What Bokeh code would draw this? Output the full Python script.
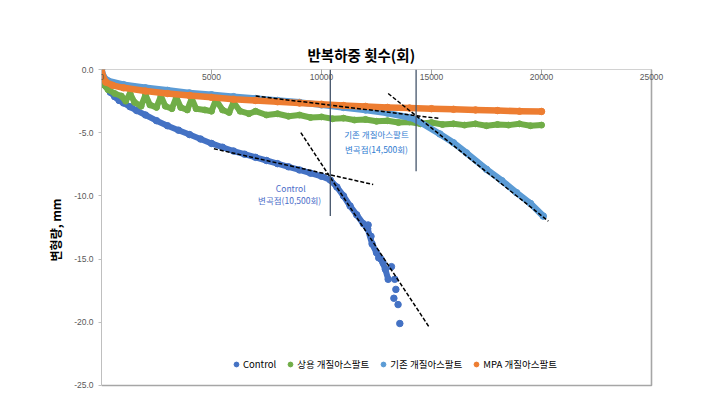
from bokeh.plotting import figure
from bokeh.models import Range1d, FixedTicker, Legend, LegendItem, Label
from bokeh.core.properties import value
from bokeh.embed import file_html
from bokeh.resources import INLINE

# ---------------- data ----------------
xticks = [0, 5000, 10000, 15000, 20000, 25000]
xtick_labels = ["0", "5000", "10000", "15000", "20000", "25000"]
yticks = [0, -5, -10, -15, -20, -25]
ytick_labels = ["0.0", "-5.0", "-10.0", "-15.0", "-20.0", "-25.0"]

series_names = ["Control", "상용 개질아스팔트", "기존 개질아스팔트", "MPA 개질아스팔트"]

# Control (main band)
ctrl_x = [0, 50, 100, 200, 400, 600, 800, 1000, 1300, 1600, 2000, 2500, 3000, 3500,
          4000, 4500, 5000, 5500, 6000, 6500, 7000, 7500, 8000, 8500, 9000, 9500,
          10000, 10400, 10700, 11000, 11300, 11600, 11900, 12100, 12300, 12500,
          12700, 12900, 13030]
ctrl_y = [0, -0.5, -0.9, -1.3, -1.8, -2.15, -2.45, -2.65, -2.95, -3.25, -3.6, -4.05,
          -4.45, -4.8, -5.15, -5.5, -5.85, -6.15, -6.45, -6.7, -6.95, -7.2, -7.45,
          -7.7, -7.95, -8.2, -8.45, -8.75, -9.3, -10.0, -10.8, -11.5, -12.2, -12.6,
          -13.8, -14.5, -15.0, -15.8, -16.6]
# Control (scattered tail points)
ctrl_tail_x = [12120, 12250, 12600, 12800, 13180, 13330, 13380, 13290, 13480, 13560]
ctrl_tail_y = [-12.3, -13.2, -14.9, -15.3, -15.6, -16.6, -17.4, -18.1, -18.6, -20.1]

# 상용 개질아스팔트
green_x = [0, 100, 300, 600, 900, 1100, 1300, 1500, 1800, 2000, 2200, 2500, 2700,
           2900, 3200, 3400, 3600, 3900, 4100, 4300, 4700, 5000, 5200, 5500, 5800,
           6000, 6300, 6700, 7000, 7500, 8000, 8500, 9000, 9500, 10000, 10500,
           11000, 11500, 12000, 12500, 13000, 13500, 14000, 14500, 15000, 15500,
           16000, 16500, 17000, 17500, 18000, 18500, 19000, 19500, 20000]
green_y = [0, -1.2, -1.6, -1.9, -2.1, -2.5, -1.9, -2.6, -2.9, -2.0, -2.8, -3.0, -2.1,
           -2.9, -3.1, -2.2, -3.0, -3.2, -2.3, -3.1, -3.2, -3.3, -2.4, -3.2, -3.4,
           -2.6, -3.3, -3.5, -3.3, -3.6, -3.5, -3.7, -3.6, -3.8, -3.75, -3.9, -3.85,
           -4.0, -3.95, -4.1, -4.05, -4.2, -4.15, -4.3, -4.2, -4.35, -4.3, -4.4, -4.3,
           -4.45, -4.35, -4.4, -4.3, -4.45, -4.4]

# 기존 개질아스팔트
lblue_x = [0, 100, 300, 1000, 2000, 3000, 4000, 5000, 6000, 7000, 8000, 9000, 10000,
           11000, 12000, 13000, 14000, 14320, 15380, 16000, 16590, 17500, 18200,
           18870, 19500, 20080]
lblue_y = [0, -0.6, -0.9, -1.2, -1.45, -1.65, -1.85, -2.0, -2.15, -2.3, -2.45, -2.6,
           -2.8, -3.0, -3.2, -3.45, -3.8, -4.0, -5.1, -5.8, -6.6, -7.9, -8.8, -9.75,
           -10.6, -11.6]

# MPA 개질아스팔트
orange_x = [0, 50, 200, 500, 1000, 2000, 3000, 4000, 5000, 6000, 7000, 8000, 9000,
            10000, 11000, 12000, 13000, 14000, 15000, 16000, 17000, 18000, 19000, 20000]
orange_y = [0, -0.5, -1.0, -1.25, -1.45, -1.7, -1.9, -2.05, -2.2, -2.35, -2.45, -2.55,
            -2.65, -2.75, -2.85, -2.92, -3.0, -3.05, -3.1, -3.15, -3.2, -3.25, -3.3, -3.32]

# break points (vertical markers) and tangent lines
bp_x = [10400, 14300]
bp_y_end = [-11.6, -8.05]
tan_x0 = [5110, 9060, 7010, 13030]
tan_y0 = [-6.27, -5.0, -2.1, -1.9]
tan_x1 = [12350, 14900, 15380, 20310]
tan_y1 = [-9.1, -20.4, -3.88, -12.0]

colors = ["#4472C4", "#70AD47", "#5B9BD5", "#ED7D31"]
KR = "Noto Sans CJK KR"
xmin, xmax = xticks[0], xticks[-1]
ymin, ymax = yticks[-1], yticks[0]

# ---------------- figure ----------------
# the frame is a little wider/taller than the axis box so that the "25000"
# tick label and the box border are not clipped; the box is drawn explicitly
p = figure(width=714, height=392, output_backend="svg", toolbar_location=None,
           x_range=Range1d(xmin, 26000), y_range=Range1d(-25.4, ymax),
           min_border_left=101, min_border_right=41, min_border_top=69,
           min_border_bottom=2)
p.grid.visible = False
p.background_fill_color = "white"
p.border_fill_color = "white"
p.outline_line_color = None

# title (x-axis title placed on top)
p.title.text = "반복하중 횟수(회)"
p.title.align = "left"
p.title.offset = 206
p.title.text_font = KR
p.title.text_font_size = "14.5px"
p.title.text_font_style = "bold"
p.title.text_color = "#000000"
p.title.standoff = 10

# x axis fixed at y=0 (top of the box); tick labels drawn as Labels below the line
xa = p.xaxis[0]
xa.fixed_location = 0
xa.bounds = (xmin, xmax)
xa.ticker = FixedTicker(ticks=xticks)
xa.major_label_overrides = {t: "" for t in xticks}
xa.major_label_standoff = 0
xa.major_tick_out = 5
xa.major_tick_in = 2
xa.minor_tick_line_color = None
xa.axis_line_color = "#A6A6A6"
xa.major_tick_line_color = "#A6A6A6"

for t, lab in zip(xticks, xtick_labels):
    p.add_layout(Label(x=t, y=0, text=lab, y_offset=-4, text_align="center",
                       text_baseline="top", text_font="Liberation Sans",
                       text_font_size="8.5px", text_color="#595959"))

ya = p.yaxis[0]
ya.bounds = (ymin, ymax)
ya.ticker = FixedTicker(ticks=yticks)
ya.major_label_overrides = {t: l for t, l in zip(yticks, ytick_labels)}
ya.major_label_text_font = "Liberation Sans"
ya.major_label_text_font_size = "8.5px"
ya.major_label_text_color = "#595959"
ya.major_label_standoff = 5
ya.major_tick_out = 3
ya.major_tick_in = 0
ya.minor_tick_line_color = None
ya.axis_line_color = "#BFBFBF"
ya.major_tick_line_color = "#BFBFBF"
ya.axis_label = "변형량, mm"
ya.axis_label_text_font = KR
ya.axis_label_text_font_size = "12px"
ya.axis_label_text_font_style = "bold"
ya.axis_label_text_color = "#000000"
ya.axis_label_standoff = 7

# right and bottom border of the plot box
p.line([xmax, xmax, xmin], [ymax, ymin, ymin], line_color="#A6A6A6", line_width=1.6)

# ---------------- series ----------------
p.line(ctrl_x, ctrl_y, line_color=colors[0], line_width=6, line_join="round", line_cap="round")
r_ctrl = p.scatter(ctrl_x + ctrl_tail_x, ctrl_y + ctrl_tail_y, size=6.5,
                   fill_color=colors[0], line_color=colors[0])

p.line(green_x, green_y, line_color=colors[1], line_width=6, line_join="round", line_cap="round")
r_green = p.scatter(green_x, green_y, size=6, fill_color=colors[1], line_color=colors[1])

p.line(lblue_x, lblue_y, line_color=colors[2], line_width=6.5, line_join="round", line_cap="round")
r_lblue = p.scatter(lblue_x, lblue_y, size=6.5, fill_color=colors[2], line_color=colors[2])

p.line(orange_x, orange_y, line_color=colors[3], line_width=6.5, line_join="round", line_cap="round")
r_orange = p.scatter(orange_x, orange_y, size=6.5, fill_color=colors[3], line_color=colors[3])

# tangent dashed lines
p.segment(tan_x0, tan_y0, tan_x1, tan_y1, line_color="black", line_width=1.5, line_dash="4 2")
# vertical break-point lines
p.segment(bp_x, [0] * len(bp_x), bp_x, bp_y_end, line_color="#44546A", line_width=1.3)

# annotations
p.text([8600, 8550], [-9.36, -10.36], text=["Control", "변곡점(10,500회)"],
       text_font=value(KR), text_font_size="8.5px", text_color="#4A6CC8",
       text_align="center", text_baseline="middle")
p.text([12500, 12500], [-5.14, -6.27], text=["기존 개질아스팔트", "변곡점(14,500회)"],
       text_font=value(KR), text_font_size="8.5px", text_color="#2F7BD0",
       text_align="center", text_baseline="middle")

# legend
legend = Legend(items=[LegendItem(label=series_names[0], renderers=[r_ctrl]),
                       LegendItem(label=series_names[1], renderers=[r_green]),
                       LegendItem(label=series_names[2], renderers=[r_lblue]),
                       LegendItem(label=series_names[3], renderers=[r_orange])],
                orientation="horizontal", location=(129, 19))
legend.label_text_font = KR
legend.label_text_font_size = "9.5px"
legend.label_text_color = "#000000"
legend.glyph_width = 12
legend.glyph_height = 12
legend.label_standoff = 1
legend.spacing = 8
legend.padding = 0
legend.margin = 0
legend.border_line_alpha = 0
legend.background_fill_alpha = 0
p.add_layout(legend)

open("out.html", "w").write(file_html(p, INLINE))
